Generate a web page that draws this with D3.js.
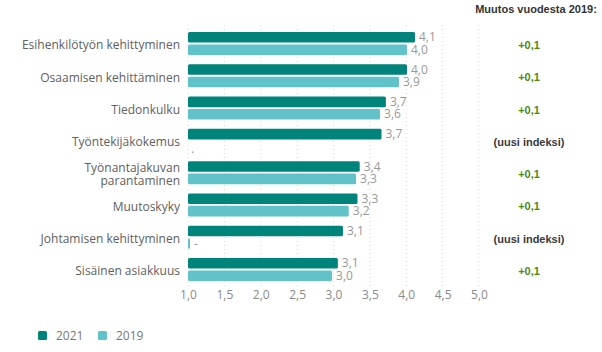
<!DOCTYPE html>
<html>
<head>
<meta charset="utf-8">
<script src="https://cdnjs.cloudflare.com/ajax/libs/d3/7.8.5/d3.min.js"></script>
<style>
  html, body { margin: 0; padding: 0; background: #fff; }
  svg { display: block; }
</style>
</head>
<body>
<svg id="chart" width="602" height="352"></svg>
<script>
// data
const categories = [
  'Esihenkilötyön kehittyminen',
  'Osaamisen kehittäminen',
  'Tiedonkulku',
  'Työntekijäkokemus',
  'Työnantajakuvan|parantaminen',
  'Muutoskyky',
  'Johtamisen kehittyminen',
  'Sisäinen asiakkuus'
]
const values2021 = [4.12, 4.01, 3.72, 3.66, 3.36, 3.33, 3.13, 3.06]
const values2019 = [4.01, 3.9, 3.64, null, 3.31, 3.21, null, 2.98]
// what is shown where 2019 has no value
const missing2019 = ['', '', '', '.', '', '', '-', '']
const changes = ['+0,1', '+0,1', '+0,1', '(uusi indeksi)', '+0,1', '+0,1', '(uusi indeksi)', '+0,1']
const xTicks = [1, 1.5, 2, 2.5, 3, 3.5, 4, 4.5, 5]
const seriesNames = ['2021', '2019']

const colors = {'2021': '#00837a', '2019': '#62c2ca'}
const fmt = v => d3.format('.1f')(v).replace('.', ',')

const svg = d3.select('#chart')

const x = d3.scaleLinear().domain([1, 5]).range([188, 479])
const y = d3.scaleBand().domain(categories).range([29, 287.3])
const y1 = d3.scaleBand().domain(seriesNames).range([3, 26]).paddingInner(0.15)

// dotted grid
svg.append('g')
  .selectAll('line')
  .data(xTicks)
  .join('line')
    .attr('x1', d => x(d)).attr('x2', d => x(d))
    .attr('y1', 25).attr('y2', 287)
    .attr('stroke', '#d9d9d9')
    .attr('stroke-width', 1)
    .attr('stroke-dasharray', '1,3')

// x axis labels
const xAxis = svg.append('g')
  .attr('transform', 'translate(0,287)')
  .call(d3.axisBottom(x).tickValues(xTicks).tickFormat(fmt).tickSize(0).tickPadding(3))
xAxis.select('.domain').remove()
xAxis.selectAll('text')
  .attr('fill', '#8a8a8a')
  .style('font-family', '"Open Sans", sans-serif')
  .style('font-size', '12px')

// category labels
const catLabels = svg.append('g')
  .selectAll('text')
  .data(categories)
  .join('text')
    .attr('x', 180)
    .attr('y', d => y(d) + y.bandwidth() / 2)
    .attr('text-anchor', 'end')
    .attr('fill', '#606060')
    .style('font-family', '"Open Sans", sans-serif')
    .style('font-size', '12px')
catLabels.each(function(d) {
  const parts = d.split('|')
  const t = d3.select(this)
  parts.forEach((p, i) => {
    t.append('tspan')
      .attr('x', 180)
      .attr('dy', i === 0 ? (0.35 - (parts.length - 1) * 0.55) + 'em' : '1.1em')
      .text(p)
  })
})

// bars
const rows = categories.map((c, i) => ({
  cat: c,
  series: [
    {name: '2021', value: values2021[i], missing: ''},
    {name: '2019', value: values2019[i], missing: missing2019[i]}
  ]
}))

const groups = svg.append('g')
  .selectAll('g')
  .data(rows)
  .join('g')
    .attr('transform', d => `translate(0,${y(d.cat)})`)

groups.selectAll('rect')
  .data(d => d.series.filter(s => s.value !== null || s.missing === '-'))
  .join('rect')
    .attr('x', x(1))
    .attr('y', s => y1(s.name))
    .attr('width', s => s.value === null ? 2 : x(s.value) - x(1))
    .attr('height', y1.bandwidth())
    .attr('rx', 1.5)
    .attr('fill', s => colors[s.name])

groups.selectAll('text.val')
  .data(d => d.series)
  .join('text')
    .attr('class', 'val')
    .attr('x', s => s.value === null ? x(1) + (s.missing === '-' ? 6 : 3) : x(s.value) + 4)
    .attr('y', s => y1(s.name) + y1.bandwidth() / 2 + (s.value === null && s.missing === '.' ? 2 : 0))
    .attr('dy', '0.35em')
    .attr('fill', '#999')
    .style('font-family', '"Open Sans", sans-serif')
    .style('font-size', '12px')
    .text(s => s.value === null ? s.missing : fmt(s.value))

// change column
svg.append('text')
  .attr('x', 536)
  .attr('y', 13)
  .attr('text-anchor', 'middle')
  .attr('fill', '#333')
  .style('font-family', '"Liberation Sans", Arial, sans-serif')
  .style('font-size', '11px')
  .style('font-weight', 'bold')
  .text('Muutos vuodesta 2019:')

svg.append('g')
  .selectAll('text')
  .data(changes)
  .join('text')
    .attr('x', 529)
    .attr('y', (d, i) => y(categories[i]) + y.bandwidth() / 2)
    .attr('dy', '0.35em')
    .attr('text-anchor', 'middle')
    .attr('fill', d => d.startsWith('+') ? '#4a8b12' : '#3a3a3a')
    .style('font-family', '"Liberation Sans", Arial, sans-serif')
    .style('font-size', '11px')
    .style('font-weight', 'bold')
    .text(d => d)

// legend
const legend = svg.append('g')
  .selectAll('g')
  .data(seriesNames)
  .join('g')
    .attr('transform', (d, i) => `translate(${38 + i * 60},331)`)
legend.append('rect')
  .attr('width', 9).attr('height', 9).attr('rx', 1.5)
  .attr('fill', d => colors[d])
legend.append('text')
  .attr('x', 18).attr('y', 4.5).attr('dy', '0.35em')
  .attr('fill', '#777')
  .style('font-family', '"Open Sans", sans-serif')
  .style('font-size', '12px')
  .text(d => d)
</script>
</body>
</html>
